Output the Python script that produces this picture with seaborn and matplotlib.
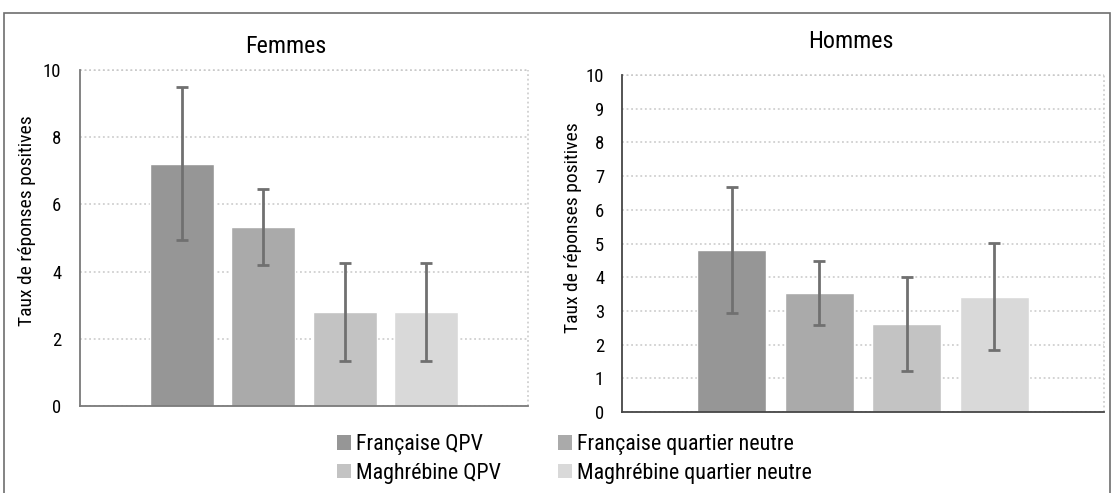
import matplotlib
matplotlib.use("Agg")
import matplotlib.pyplot as plt
from matplotlib import font_manager
import seaborn as sns
import pandas as pd
from matplotlib.patches import Patch, Rectangle

categories = ["Française QPV", "Française quartier neutre", "Maghrébine QPV", "Maghrébine quartier neutre"]
femmes_values = [7.21, 5.33, 2.80, 2.80]
femmes_errors = [2.27, 1.14, 1.45, 1.45]
hommes_values = [4.81, 3.53, 2.62, 3.42]
hommes_errors = [1.88, 0.94, 1.40, 1.59]
colors = ["#969696", "#aaaaaa", "#c3c3c3", "#d9d9d9"]
panel_titles = ["Femmes", "Hommes"]
ylabel = "Taux de réponses positives"
yticks_femmes = [0, 2, 4, 6, 8, 10]
yticks_hommes = [0, 1, 2, 3, 4, 5, 6, 7, 8, 9, 10]

sns.set_theme(style="white")

# pick a narrow sans font if one is installed (reference uses a condensed Arial-like face)
names = {f.name for f in font_manager.fontManager.ttflist}
condensed_dejavu = any(f.name == "DejaVu Sans" and "condensed" in str(f.stretch)
                       for f in font_manager.fontManager.ttflist)
stretch = "normal"
if "Liberation Sans Narrow" in names:
    main_font, k = "Liberation Sans Narrow", 1.0
elif "Arial Narrow" in names:
    main_font, k = "Arial Narrow", 1.0
elif "Roboto Condensed" in names:
    main_font, k = "Roboto Condensed", 0.96
elif condensed_dejavu:
    main_font, k, stretch = "DejaVu Sans", 0.86, "condensed"
else:
    main_font, k = "Liberation Sans", 0.86
plt.rcParams["font.family"] = [main_font, "Liberation Sans", "DejaVu Sans"]
plt.rcParams["font.stretch"] = stretch
txt_color = "#000000"

W, H = 1112, 493
fig = plt.figure(figsize=(W / 100, H / 100), dpi=100)

# outer frame
fig.patches.append(Rectangle((4 / W, -0.05), 1106 / W, 1 - 13 / H + 0.05,
                             transform=fig.transFigure, fill=False,
                             edgecolor="#6e6e6e", linewidth=1.2))

axL = fig.add_axes([80 / W, (H - 406) / H, 448 / W, 336 / H])
axR = fig.add_axes([622 / W, (H - 412) / H, 482 / W, 337 / H])

specs = [
    (axL, femmes_values, femmes_errors, yticks_femmes, 286, 53, "#7a7a7a", 5.0, 8.5, 27, 221),
    (axR, hommes_values, hommes_errors, yticks_hommes, 851, 48, "#454545", 3.6, 9.2, 573, 228),
]

grid_style = (0, (1.2, 1.8))
for i, (ax, vals, errs, yt, tx, ty, sc, tl, pad, lx, ly) in enumerate(specs):
    df = pd.DataFrame({"cat": categories, "val": vals})
    sns.barplot(data=df, x="cat", y="val", hue="cat", palette=colors,
                width=0.79, ax=ax, legend=False, errorbar=None, saturation=1)
    ax.errorbar(range(len(categories)), vals, yerr=errs, fmt="none",
                ecolor="#707070", elinewidth=2, capsize=4.5, capthick=2, zorder=5)
    ax.set_xlim(-1.25, 4.25)
    ax.set_ylim(0, 10)
    ax.set_yticks(yt)
    ax.set_yticklabels([str(v) for v in yt], fontsize=14 * k, color=txt_color)
    ax.set_xticks([-1.25, 4.25])
    ax.set_xticklabels(["", ""])
    ax.tick_params(axis="both", direction="out", length=tl, width=1.2, color=sc, pad=pad)
    ax.set_xlabel("")
    ax.set_ylabel("")
    ax.grid(axis="y", linestyle=grid_style, color="#c8c8c8", linewidth=1.1)
    ax.set_axisbelow(True)
    for s in ["top", "right"]:
        ax.spines[s].set_visible(False)
    for s in ["left", "bottom"]:
        ax.spines[s].set_color(sc)
        ax.spines[s].set_linewidth(1.3)
    ax.axvline(4.25, linestyle=grid_style, color="#c8c8c8", linewidth=1.1, clip_on=False, zorder=0)
    ax.axhline(10, linestyle=grid_style, color="#c8c8c8", linewidth=1.1, clip_on=False, zorder=0)
    fig.text(tx / W, 1 - ty / H, panel_titles[i], ha="center", va="baseline",
             fontsize=18 * k, color=txt_color)
    fig.text(lx / W, 1 - ly / H, ylabel, rotation=90, ha="center", va="center",
             fontsize=14.6 * k, color=txt_color)

handles = [Patch(facecolor=c, edgecolor="none") for c in colors]
order = [0, 2, 1, 3]
leg = fig.legend([handles[j] for j in order], [categories[j] for j in order],
                 loc="upper left", bbox_to_anchor=(337 / W, 1 - 434 / H), ncol=2,
                 frameon=False, fontsize=16.5 * k, handlelength=0.65, handleheight=0.65,
                 handletextpad=0.2, columnspacing=2.5 / k, labelspacing=0.3 + (1 - k) * 1.2,
                 borderpad=0, borderaxespad=0)
for t in leg.get_texts():
    t.set_color(txt_color)

fig.savefig("out.png", dpi=100)
